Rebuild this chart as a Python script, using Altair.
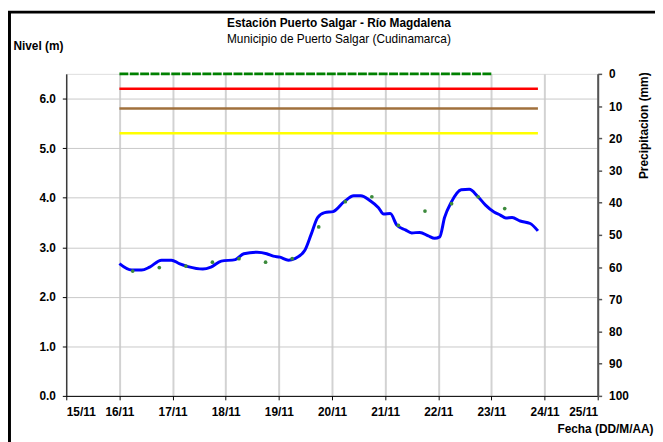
import altair as alt
import pandas as pd

FONT = "Liberation Sans"

# ---- Titles
title_text = "Estación Puerto Salgar - Río Magdalena"
subtitle_text = "Municipio de Puerto Salgar (Cudinamarca)"

# ---- Nivel (m) continuous series (blue line)
level_times = [
    "2022-11-16T00:00", "2022-11-16T05:30", "2022-11-16T10:00", "2022-11-16T13:40",
    "2022-11-16T19:00", "2022-11-16T23:30", "2022-11-17T03:00", "2022-11-17T07:00",
    "2022-11-17T13:40", "2022-11-17T17:20", "2022-11-17T22:00", "2022-11-18T04:20",
    "2022-11-18T08:10", "2022-11-18T14:10", "2022-11-18T18:30", "2022-11-18T21:30",
    "2022-11-19T00:30", "2022-11-19T04:20", "2022-11-19T07:10", "2022-11-19T11:45",
    "2022-11-19T14:40", "2022-11-19T17:30", "2022-11-19T20:40", "2022-11-20T00:30",
    "2022-11-20T05:30", "2022-11-20T09:50", "2022-11-20T13:00", "2022-11-20T17:15",
    "2022-11-20T21:00", "2022-11-20T23:20", "2022-11-21T02:20", "2022-11-21T05:15",
    "2022-11-21T09:10", "2022-11-21T12:00", "2022-11-21T15:40", "2022-11-21T19:30",
    "2022-11-21T22:20", "2022-11-22T00:40", "2022-11-22T02:50", "2022-11-22T05:45",
    "2022-11-22T10:20", "2022-11-22T14:00", "2022-11-22T17:45", "2022-11-22T21:20",
    "2022-11-23T01:10", "2022-11-23T04:00", "2022-11-23T06:30", "2022-11-23T09:20",
    "2022-11-23T13:00", "2022-11-23T17:30", "2022-11-23T21:00",
]
level_values = [
    2.67, 2.54, 2.54, 2.60,
    2.74, 2.74, 2.67, 2.61,
    2.56, 2.60, 2.72, 2.75,
    2.87, 2.90, 2.87, 2.82,
    2.80, 2.74, 2.77, 2.94,
    3.27, 3.60, 3.70, 3.72,
    3.92, 4.04, 4.04, 3.94,
    3.80, 3.67, 3.68, 3.45,
    3.35, 3.29, 3.30, 3.23,
    3.18, 3.21, 3.60, 3.90,
    4.16, 4.17, 4.03, 3.85,
    3.71, 3.65, 3.59, 3.60,
    3.53, 3.48, 3.33,
]

# ---- Observed readings (green dots)
obs_times = [
    "2022-11-16T06:00", "2022-11-16T18:00", "2022-11-17T06:00", "2022-11-17T18:00",
    "2022-11-18T06:00", "2022-11-18T18:00", "2022-11-19T06:00", "2022-11-19T18:00",
    "2022-11-20T06:00", "2022-11-20T18:00", "2022-11-21T06:00", "2022-11-21T18:00",
    "2022-11-22T06:00", "2022-11-22T18:00", "2022-11-23T06:00",
]
obs_values = [2.52, 2.59, 2.62, 2.70, 2.77, 2.70, 2.77, 3.41,
              3.92, 4.02, 3.44, 3.73, 3.88, 4.02, 3.78]

# ---- Alert thresholds
threshold_names = ["Alerta roja", "Alerta naranja", "Alerta amarilla"]
threshold_values = [6.2, 5.8, 5.3]
threshold_colors = ["#ff0000", "#a0703c", "#ffff00"]
threshold_start = "2022-11-16T00:00"
threshold_end = "2022-11-23T21:00"

# ---- Precipitation (mm)
precip_times = ["2022-11-16T00:00", "2022-11-17T00:00", "2022-11-18T00:00",
                "2022-11-19T00:00", "2022-11-20T00:00", "2022-11-21T00:00",
                "2022-11-22T00:00", "2022-11-23T00:00"]
precip_values = [0, 0, 0, 0, 0, 0, 0, 0]

level_df = pd.DataFrame({"t": level_times, "v": level_values})
obs_df = pd.DataFrame({"t": obs_times, "v": obs_values})
thr_df = pd.DataFrame({
    "name": threshold_names,
    "v": threshold_values,
    "t": [threshold_start] * len(threshold_names),
    "t2": [threshold_end] * len(threshold_names),
})
precip_df = pd.DataFrame({"t": precip_times, "p": precip_values})

day_ticks = [alt.DateTime(year=2022, month=11, date=d) for d in range(15, 26)]

x_enc = alt.X(
    "t:T",
    scale=alt.Scale(domain=[day_ticks[0], day_ticks[-1]], nice=False),
    axis=alt.Axis(
        values=day_ticks, format="%d/%m", title="Fecha (DD/M/AA)",
        grid=True, gridColor="#d2d2d2", gridWidth=2,
        domainColor="#000000", tickColor="#000000", tickSize=4,
        labelPadding=7, labelFontSize=12, labelFontWeight="bold", labelColor="#000000",
        labelFont=FONT,
        titleFont=FONT, titleFontSize=12, titleFontWeight="bold", titleColor="#000000",
        titleX=594, titleY=33, titleAlign="right", titleBaseline="middle",
    ),
)

y_axis = alt.Axis(
    values=[0, 1, 2, 3, 4, 5, 6], format=".1f", title="Nivel (m)",
    grid=True, gridColor="#c8c8c8", gridWidth=1,
    domainColor="#000000", tickColor="#000000", tickSize=4, labelPadding=7,
    labelFontSize=12, labelFontWeight="bold", labelColor="#000000", labelFont=FONT,
    titleFont=FONT, titleFontSize=12, titleFontWeight="bold", titleColor="#000000",
    titleAngle=0, titleAlign="left", titleBaseline="middle", titleX=-54, titleY=-29,
)
y_scale = alt.Scale(domain=[0, 6.5], nice=False, zero=True)

line = alt.Chart(level_df).mark_line(
    color="#0000ff", strokeWidth=3, interpolate="monotone"
).encode(x=x_enc, y=alt.Y("v:Q", scale=y_scale, axis=y_axis))

points = alt.Chart(obs_df).mark_circle(
    color="#3c8a3c", size=14, opacity=1
).encode(x=x_enc, y=alt.Y("v:Q", scale=y_scale, axis=y_axis))

thresholds = alt.Chart(thr_df).mark_rule(strokeWidth=2.5).encode(
    x=x_enc,
    x2="t2:T",
    y=alt.Y("v:Q", scale=y_scale, axis=y_axis),
    color=alt.Color("name:N", scale=alt.Scale(domain=threshold_names,
                                              range=threshold_colors), legend=None),
)

left = alt.layer(thresholds, line, points)

precip = alt.Chart(precip_df).mark_line(
    color="#008000", strokeWidth=3, strokeDash=[9, 1.5]
).encode(
    x=x_enc,
    y=alt.Y(
        "p:Q",
        scale=alt.Scale(domain=[0, 100], reverse=True, nice=False),
        axis=alt.Axis(
            orient="right", values=list(range(0, 101, 10)), title="Precipitacion (mm)",
            grid=False, domainColor="#555555", domainWidth=2, tickColor="#555555",
            tickSize=4, tickWidth=1.5, labelPadding=7,
            labelFontSize=12, labelFontWeight="bold", labelColor="#000000", labelFont=FONT,
            titleFont=FONT, titleFontSize=12, titleFontWeight="bold", titleColor="#000000",
            titleAngle=270, titleAlign="center", titleBaseline="middle",
            titleX=46, titleY=52,
        ),
    ),
)

single = pd.DataFrame({"k": [0]})

frame = alt.Chart(single).mark_rect(
    fillOpacity=0, stroke="#000000", strokeWidth=3
).encode(
    x=alt.value(-57.5), x2=alt.value(700), y=alt.value(-62.5), y2=alt.value(500)
)

title_mark = alt.Chart(single).mark_text(
    text=title_text, font=FONT, fontSize=12, fontWeight="bold", color="#000000",
    align="center", baseline="middle"
).encode(x=alt.value(276), y=alt.value(-51))

subtitle_mark = alt.Chart(single).mark_text(
    text=subtitle_text, font=FONT, fontSize=12, fontWeight="normal", color="#000000",
    align="center", baseline="middle"
).encode(x=alt.value(276), y=alt.value(-35))

chart = alt.layer(left, precip, frame, title_mark, subtitle_mark).resolve_scale(
    y="independent"
).properties(
    width=538,
    height=326,
    autosize=alt.AutoSizeParams(type="none"),
    padding={"left": 59, "top": 64, "right": 58, "bottom": 44},
).configure_view(
    stroke="#a0a0a0", strokeWidth=1
).configure(background="#ffffff")

chart.save("out.html", embed_options={"renderer": "svg", "actions": False})
